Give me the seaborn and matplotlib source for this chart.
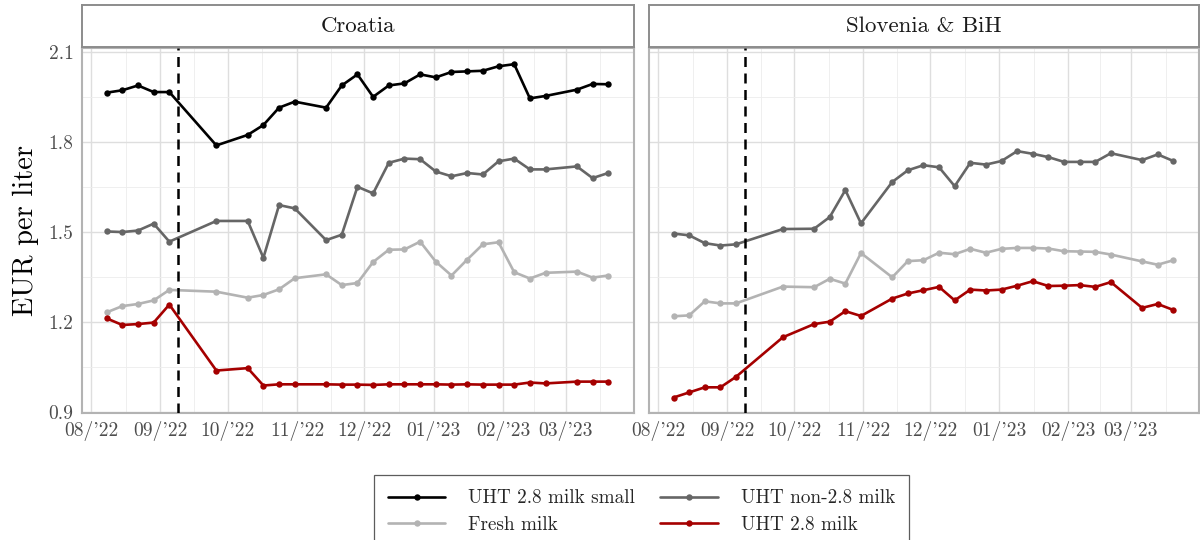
import numpy as np
import pandas as pd
import matplotlib
matplotlib.use("Agg")
import matplotlib.pyplot as plt
import matplotlib.dates as mdates
from matplotlib.lines import Line2D
import seaborn as sns

# ---------------- data ----------------
survey_dates = ["2022-08-08", "2022-08-15", "2022-08-22", "2022-08-29", "2022-09-05",
                "2022-09-26", "2022-10-10", "2022-10-17", "2022-10-24", "2022-10-31",
                "2022-11-14", "2022-11-21", "2022-11-28", "2022-12-05", "2022-12-12",
                "2022-12-19", "2022-12-26", "2023-01-02", "2023-01-09", "2023-01-16",
                "2023-01-23", "2023-01-30", "2023-02-06", "2023-02-13", "2023-02-20",
                "2023-03-06", "2023-03-13", "2023-03-20"]

panels = ["Croatia", "Slovenia & BiH"]
products = ["UHT 2.8 milk small", "Fresh milk", "UHT non-2.8 milk", "UHT 2.8 milk"]

hr_uht_small = [1.964, 1.972, 1.988, 1.966, 1.966, 1.788, 1.823, 1.856, 1.914, 1.934,
                1.914, 1.988, 2.025, 1.950, 1.988, 1.995, 2.025, 2.015, 2.033, 2.035,
                2.037, 2.052, 2.059, 1.945, 1.953, 1.974, 1.993, 1.992]
hr_uht_non28 = [1.501, 1.499, 1.504, 1.527, 1.467, 1.536, 1.536, 1.413, 1.589, 1.578,
                1.472, 1.490, 1.650, 1.628, 1.730, 1.744, 1.742, 1.701, 1.685, 1.696,
                1.691, 1.735, 1.744, 1.708, 1.708, 1.718, 1.679, 1.696]
hr_fresh = [1.231, 1.252, 1.259, 1.271, 1.306, 1.300, 1.280, 1.289, 1.308, 1.345,
            1.358, 1.322, 1.329, 1.399, 1.440, 1.441, 1.467, 1.400, 1.354, 1.407,
            1.458, 1.465, 1.365, 1.344, 1.363, 1.367, 1.347, 1.354]
hr_uht28 = [1.211, 1.189, 1.192, 1.197, 1.257, 1.037, 1.045, 0.987, 0.991, 0.991,
            0.991, 0.990, 0.990, 0.989, 0.991, 0.991, 0.991, 0.991, 0.990, 0.991,
            0.990, 0.990, 0.990, 0.997, 0.994, 1.000, 1.000, 1.000]

si_uht_non28 = [1.494, 1.488, 1.462, 1.454, 1.458, 1.509, 1.510, 1.549, 1.639, 1.528,
                1.666, 1.705, 1.722, 1.715, 1.652, 1.730, 1.724, 1.736, 1.769, 1.760,
                1.749, 1.733, 1.733, 1.733, 1.762, 1.739, 1.758, 1.736]
si_fresh = [1.218, 1.221, 1.268, 1.261, 1.261, 1.317, 1.315, 1.343, 1.327, 1.429,
            1.348, 1.402, 1.405, 1.430, 1.425, 1.443, 1.430, 1.443, 1.446, 1.446,
            1.444, 1.435, 1.434, 1.433, 1.424, 1.401, 1.390, 1.405]
si_uht28 = [0.947, 0.964, 0.981, 0.981, 1.016, 1.148, 1.192, 1.200, 1.235, 1.219,
            1.277, 1.294, 1.305, 1.316, 1.271, 1.307, 1.304, 1.307, 1.320, 1.335,
            1.319, 1.320, 1.322, 1.316, 1.332, 1.246, 1.259, 1.239]

event_date = "2022-09-09"
x_tick_months = ["2022-08-01", "2022-09-01", "2022-10-01", "2022-11-01", "2022-12-01",
                 "2023-01-01", "2023-02-01", "2023-03-01"]
x_tick_labels = ["08/'22", "09/'22", "10/'22", "11/'22", "12/'22", "01/'23", "02/'23", "03/'23"]
y_ticks = [0.9, 1.2, 1.5, 1.8, 2.1]
y_tick_labels = ["0.9", "1.2", "1.5", "1.8", "2.1"]

colors = {"UHT 2.8 milk small": "#000000", "UHT non-2.8 milk": "#666666",
          "Fresh milk": "#b3b3b3", "UHT 2.8 milk": "#a50000"}

# ---------------- tidy frame ----------------
series = {
    ("Croatia", "UHT 2.8 milk small"): hr_uht_small,
    ("Croatia", "UHT non-2.8 milk"): hr_uht_non28,
    ("Croatia", "Fresh milk"): hr_fresh,
    ("Croatia", "UHT 2.8 milk"): hr_uht28,
    ("Slovenia & BiH", "UHT non-2.8 milk"): si_uht_non28,
    ("Slovenia & BiH", "Fresh milk"): si_fresh,
    ("Slovenia & BiH", "UHT 2.8 milk"): si_uht28,
}
rows = []
for (panel, prod), vals in series.items():
    for d, v in zip(survey_dates, vals):
        rows.append({"panel": panel, "product": prod, "date": pd.Timestamp(d), "price": v})
df = pd.DataFrame(rows)

# ---------------- style ----------------
sns.set_style("white")
plt.rcParams["font.family"] = ["cmr10", "DejaVu Serif"]
plt.rcParams["mathtext.fontset"] = "cm"
plt.rcParams["axes.formatter.use_mathtext"] = True

fig = plt.figure(figsize=(12, 5.4), dpi=100)
W, H = 1200, 540

def fx(px):
    return px / W

def fy(py):
    return 1 - py / H

panel_boxes = [(82, 634), (649, 1199)]
ptop, pbot = 48, 412.5
strip_top = 5

xmin = pd.Timestamp("2022-07-28 00:00")
xmax = pd.Timestamp("2023-03-31 12:00")
month_starts = pd.to_datetime(x_tick_months + ["2023-04-01"])
minor_x = [month_starts[i] + (month_starts[i + 1] - month_starts[i]) / 2
           for i in range(len(month_starts) - 1)]
minor_y = [(y_ticks[i] + y_ticks[i + 1]) / 2 for i in range(len(y_ticks) - 1)]

grid_major = "#dedede"
grid_minor = "#ededed"
border = "#b3b3b3"
tick_col = "#4d4d4d"

axes = []
for i, (panel, (x0, x1)) in enumerate(zip(panels, panel_boxes)):
    ax = fig.add_axes([fx(x0), fy(pbot), fx(x1 - x0), (pbot - ptop) / H])
    axes.append(ax)
    sub = df[df["panel"] == panel]
    order = [p for p in products if p in sub["product"].unique()]
    sns.lineplot(data=sub, x="date", y="price", hue="product", hue_order=order,
                 palette=colors, marker="o", markersize=4.6, markeredgewidth=0,
                 linewidth=1.9, errorbar=None, legend=False, ax=ax, zorder=3)
    ax.axvline(pd.Timestamp(event_date), color="black", linestyle=(0, (4, 2.6)),
               linewidth=1.8, zorder=4)
    ax.set_xlim(xmin, xmax)
    ax.set_ylim(0.897, 2.113)
    ax.set_xticks(pd.to_datetime(x_tick_months))
    ax.set_xticklabels(x_tick_labels)
    ax.set_xticks(minor_x, minor=True)
    ax.set_yticks(y_ticks)
    ax.set_yticks(minor_y, minor=True)
    ax.grid(which="major", color=grid_major, linewidth=1.0, zorder=0)
    ax.grid(which="minor", color=grid_minor, linewidth=0.6, zorder=0)
    ax.set_axisbelow(True)
    for s in ax.spines.values():
        s.set_color(border)
        s.set_linewidth(1.5)
    ax.tick_params(axis="both", which="major", length=4, width=1.0, color=border,
                   labelsize=14, labelcolor=tick_col, pad=2, direction="out")
    ax.tick_params(axis="both", which="minor", length=0)
    ax.set_xlabel("")
    if i == 0:
        ax.set_yticklabels(y_tick_labels)
        ax.set_ylabel("EUR per liter", fontsize=20.5, color="black", labelpad=7)
    else:
        ax.set_yticklabels([])
        ax.tick_params(axis="y", which="major", length=0)
        ax.set_ylabel("")

    # facet strip
    sax = fig.add_axes([fx(x0), fy(ptop - 1), fx(x1 - x0), (ptop - 1 - strip_top) / H])
    sax.set_xticks([])
    sax.set_yticks([])
    sax.set_facecolor("white")
    for s in sax.spines.values():
        s.set_color("#8c8c8c")
        s.set_linewidth(1.4)
    sax.text(0.5, 0.5, panel, ha="center", va="center", fontsize=16.5,
             color="#1a1a1a", transform=sax.transAxes)

# legend
handles = [Line2D([0], [0], color=colors[p], linewidth=1.9, marker="o",
                  markersize=4.6, markeredgewidth=0) for p in products]
leg = fig.legend(handles, products, loc="upper center", ncol=2,
                 bbox_to_anchor=(fx(641.5), fy(475)), frameon=True, fancybox=False,
                 edgecolor="#333333", fontsize=13.8, numpoints=1, handlelength=3.0,
                 handletextpad=1.2, columnspacing=1.3, labelspacing=0.45,
                 borderpad=0.75, borderaxespad=0)
leg.get_frame().set_linewidth(0.9)

fig.savefig("out.png", dpi=100)
